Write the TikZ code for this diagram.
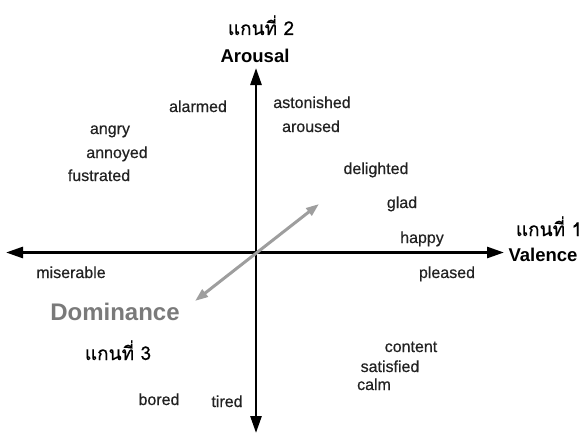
\documentclass[tikz,border=0pt]{standalone}
\usepackage{fontspec}
\setmainfont{Liberation Sans}
\newfontfamily\wordfont[FakeBold=0.5]{Liberation Sans}
\newfontfamily\thaifont[Script=Thai,FakeBold=0.4]{Loma}
\usetikzlibrary{arrows.meta}
\definecolor{wordcol}{HTML}{222222}
\definecolor{domgray}{HTML}{7A7A7A}
\definecolor{arrowgray}{HTML}{9E9E9E}
\tikzset{
  axis/.style={line width=2.7pt, black, -{Triangle[length=17pt,width=11pt]}},
  daxis/.style={line width=3pt, arrowgray, {Triangle[length=13pt,width=9pt]}-{Triangle[length=13pt,width=9pt]}},
  word/.style={anchor=base, inner sep=0pt, text=wordcol, font=\wordfont\fontsize{16}{18}\selectfont},
  axisname/.style={anchor=base, inner sep=0pt, font=\bfseries\fontsize{18.5}{20}\selectfont},
  thailabel/.style={anchor=base, inner sep=0pt, font=\thaifont\fontsize{19}{21}\selectfont}
}
\begin{document}
\begin{tikzpicture}[x=1pt,y=-1pt]
\useasboundingbox (0,0) rectangle (588,436);
% axis end points
\coordinate (O) at (256,252.5);
\coordinate (top) at (256,68);
\coordinate (bottom) at (256,433);
\coordinate (left) at (6,252.5);
\coordinate (right) at (504,252.5);
\coordinate (dneg) at (195,301);
\coordinate (dpos) at (319,204);
% axes
\draw[axis] (O) -- (top);
\draw[axis] (O) -- (bottom);
\draw[axis] (O) -- (left);
\draw[axis] (O) -- (right);
\draw[daxis] (dneg) -- (dpos);
% axis names
\node[thailabel] (t2) at (261,35) {แกนที่ 2};
\node[axisname] (arousal) at (255,63) {Arousal};
\node[thailabel] (t1) at (549,236) {แกนที่ 1};
\node[axisname] (valence) at (543,261) {Valence};
\node[axisname, text=domgray, font=\bfseries\fontsize{24}{26}\selectfont] (dominance) at (115,320) {Dominance};
\node[thailabel] (t3) at (118,360) {แกนที่ 3};
% emotion words
\node[word] (alarmed) at (198,112) {alarmed};
\node[word] (astonished) at (312,108) {astonished};
\node[word] (aroused) at (311,132) {aroused};
\node[word] (angry) at (110,134) {angry};
\node[word] (annoyed) at (117,158) {annoyed};
\node[word] (fustrated) at (99,181) {fustrated};
\node[word] (delighted) at (376,174) {delighted};
\node[word] (glad) at (402,208) {glad};
\node[word] (happy) at (422,243) {happy};
\node[word] (miserable) at (71,278) {miserable};
\node[word] (pleased) at (447,278) {pleased};
\node[word] (content) at (411,352) {content};
\node[word] (satisfied) at (390,372) {satisfied};
\node[word] (calm) at (374,390) {calm};
\node[word] (bored) at (159,405) {bored};
\node[word] (tired) at (227,407) {tired};
\end{tikzpicture}
\end{document}
